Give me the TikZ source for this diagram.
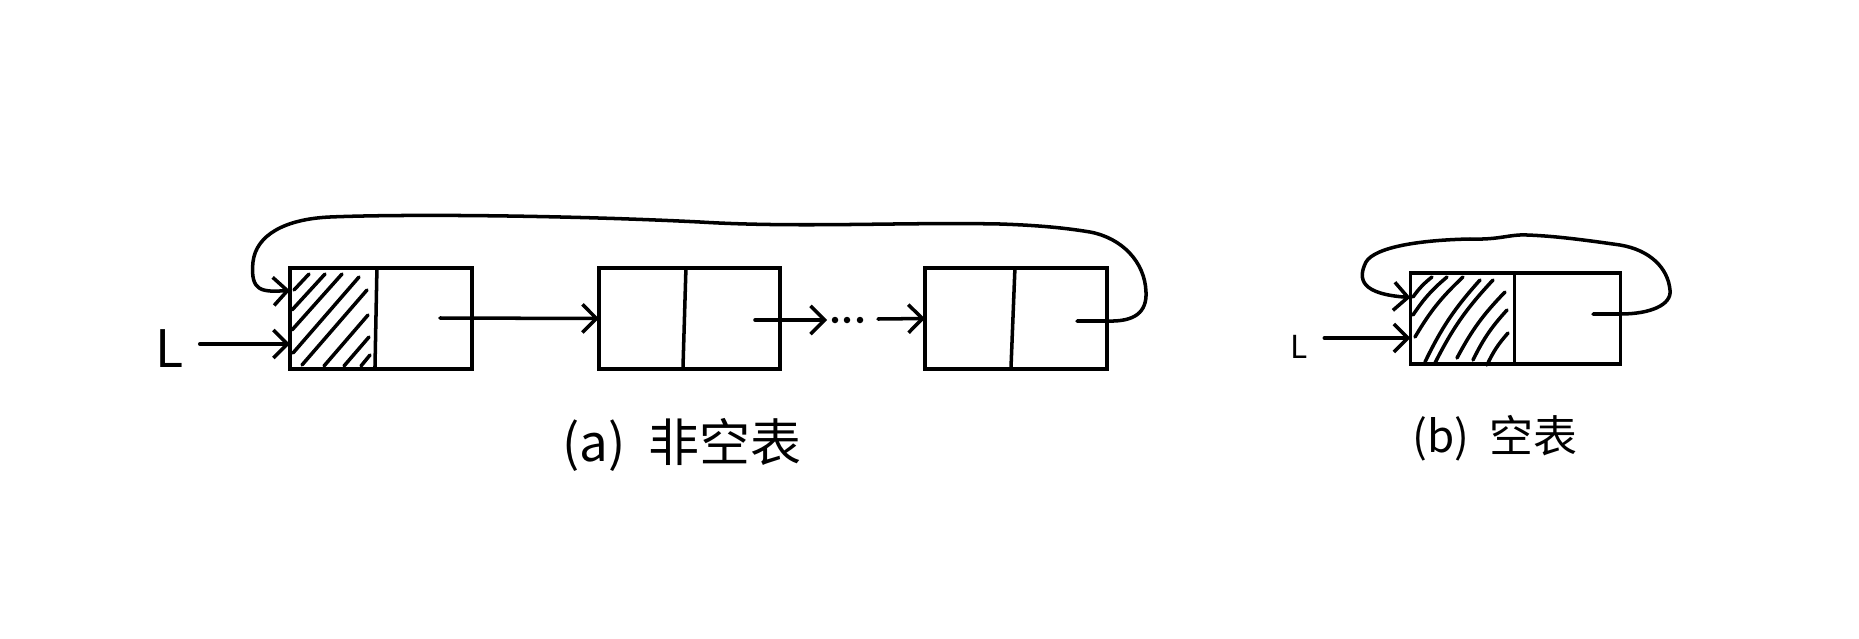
\documentclass[tikz,border=0pt]{standalone}
\usepackage{fontspec}
\setmainfont{Noto Sans CJK SC}
\usetikzlibrary{arrows.meta,calc}
\begin{document}
\begin{tikzpicture}[x=0.01cm,y=-0.01cm,
  ln/.style={line width=1pt, line cap=round, line join=round},
  arr/.style={ln,-{Straight Barb[length=4pt,width=8pt]}},
  cell/.style={draw, line width=1pt, minimum width=#1, minimum height=1.01cm, inner sep=0pt, outer sep=0pt},
  hatch/.style={line width=1pt, line cap=round},
  dot/.style={circle, fill=black, minimum size=0.065cm, inner sep=0pt},
  lbl/.style={inner sep=0pt}]
\useasboundingbox (0,0) rectangle (1859,639);

% boxes
\node[cell=1.82cm] (b1) at (381,318.5) {};
\node[cell=1.81cm] (b2) at (689.5,318.5) {};
\node[cell=1.82cm] (b3) at (1016,318.5) {};
\node[draw, line width=1pt, minimum width=2.10cm, minimum height=0.91cm, inner sep=0pt, outer sep=0pt] (bb) at (1515.5,318.5) {};

% dividers
\draw[ln] ($(b1.north west)+(87,0)$) -- ($(b1.south west)+(85,0)$);
\draw[ln] ($(b2.north west)+(87,0)$) -- ($(b2.south west)+(84,0)$);
\draw[ln] ($(b3.north west)+(90,0)$) -- ($(b3.south west)+(86,0)$);
\draw[ln] ($(bb.north west)+(104,0)$) -- ($(bb.south west)+(104,0)$);

% hatching (a)
\draw[hatch] (294,290) -- (309,274);
\draw[hatch] (292,310) -- (325,274);
\draw[hatch] (292,330) -- (342,274);
\draw[hatch] (293,353) -- (359,277);
\draw[hatch] (302,365) -- (367,290);
\draw[hatch] (324,366) -- (368,315);
\draw[hatch] (344,366) -- (369,337);
\draw[hatch] (361,366) -- (370,355);

% hatching (b)
\draw[hatch] (1413,297) to[bend left=8] (1432,277);
\draw[hatch] (1413,315) to[bend left=8] (1447,277);
\draw[hatch] (1415,337) to[bend left=8] (1463,277);
\draw[hatch] (1425,362) to[bend left=8] (1480,280);
\draw[hatch] (1435,363) to[bend left=8] (1493,280);
\draw[hatch] (1457,358) to[bend left=8] (1505,292);
\draw[hatch] (1473,360) to[bend left=8] (1507,310);
\draw[hatch] (1487,365) to[bend left=8] (1508,333);

% labels
\node[lbl] (La) at (170,349) {\fontsize{14.7pt}{16pt}\selectfont L};
\node[lbl] (Lb) at (1299,347) {\fontsize{9pt}{10pt}\selectfont L};
\node (capa) at (682,445) {\fontsize{14.5pt}{16pt}\selectfont (a)\hspace{0.45em}非空表};
\node (capb) at (1495,438) {\fontsize{12.5pt}{14pt}\selectfont (b)\hspace{0.45em}空表};

% pointers
\coordinate (p1) at (440,318);
\coordinate (p2) at (755,320);
\coordinate (p3) at (1077,321);
\coordinate (pb) at (1593,314);
\coordinate (q) at (878,319);

\node[dot] (d1) at (835,320) {};
\node[dot] (d2) at (847,320) {};
\node[dot] (d3) at (860,320) {};

\draw[arr] ($(La.east)+(15,-5)$) -- ($(b1.west)+(0,25.5)$);
\draw[arr] ($(Lb.east)+(16,-9)$) -- ($(bb.west)+(0,19.5)$);
\draw[arr] (p1) -- (b2.west);
\draw[arr] (p2) -- ($(d1.west)+(-4,0)$);
\draw[arr] (q) -- (b3.west);

% loop (a)
\draw[arr] (p3) -- (b3.east |- p3) .. controls (1135,322) and (1147,312) .. (1146,292)
  .. controls (1145,262) and (1122,238) .. (1090,232)
  .. controls (1060,227) and (1030,225) .. (1000,224)
  .. controls (900,222) and (800,228) .. (700,222)
  .. controls (560,215) and (400,214) .. (330,217)
  .. controls (285,219) and (256,235) .. (253,262)
  .. controls (250,292) and (262,292) .. ($(b1.west)+(0,-28)$);

% loop (b)
\draw[arr] (pb) -- (bb.east |- pb) .. controls (1650,314) and (1672,305) .. (1670,290)
  .. controls (1668,268) and (1650,250) .. (1620,245)
  .. controls (1585,240) and (1555,236) .. (1527,235)
  .. controls (1510,234) and (1500,240) .. (1470,239)
  .. controls (1420,240) and (1375,247) .. (1366,262)
  .. controls (1357,280) and (1362,294) .. ($(bb.west)+(0,-21)$);
\end{tikzpicture}
\end{document}
